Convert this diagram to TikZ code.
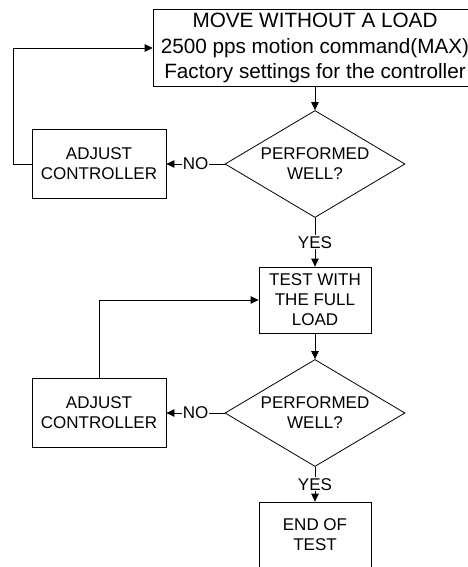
\documentclass[tikz,border=0pt]{standalone}
\usepackage{fontspec}
\setmainfont{Liberation Sans}
\usetikzlibrary{shapes.geometric,arrows.meta}

\begin{document}
\begin{tikzpicture}[x=1pt,y=1pt]
    \useasboundingbox (0,0) rectangle (467,-567);

    \tikzstyle{txt}=[font=\fontsize{17}{20}\selectfont]
    \tikzstyle{start}=[draw=black,line width=0.8pt,minimum width=324pt,minimum height=76pt,align=center,font=\fontsize{20.7}{25.5}\selectfont]
    \tikzstyle{fix}=[draw=black,line width=0.8pt,minimum width=134pt,minimum height=69pt,align=center,txt]
    \tikzstyle{stage}=[draw=black,line width=0.8pt,minimum width=112pt,minimum height=66pt,align=center,txt]
    \tikzstyle{check}=[diamond,draw=black,line width=0.8pt,shape aspect=1.68,inner sep=0pt,minimum width=180pt,minimum height=107pt,align=center,txt]
    \tikzstyle{lbl}=[fill=white,inner sep=1pt,txt]

    \node[start] (move) at (315,-48) {MOVE WITHOUT A LOAD\\2500 pps motion command(MAX)\\Factory settings for the controller};
    \node[check] (well1) at (315,-164) {PERFORMED\\WELL?};
    \node[fix] (adj1) at (99,-164) {ADJUST\\CONTROLLER};
    \node[stage] (full) at (315,-300) {TEST WITH\\THE FULL\\LOAD};
    \node[check] (well2) at (315,-413) {PERFORMED\\WELL?};
    \node[fix] (adj2) at (99,-413) {ADJUST\\CONTROLLER};
    \node[stage] (end) at (315,-535) {END OF\\TEST};

    \tikzstyle{fwd} = [draw=black, line width=0.8pt, -{Triangle[length=8pt,width=7.5pt]}]

          \draw [fwd] (move) -- (well1);
          \draw [fwd] (well1) -- node[lbl] {YES} (full);
          \draw [fwd] (well1) -- node[lbl] {NO} (adj1);
          \draw [fwd] (adj1.west) -- ++(-18,0) |- (move.west);
          \draw [fwd] (full) -- (well2);
          \draw [fwd] (well2) -- node[lbl] {YES} (end);
          \draw [fwd] (well2) -- node[lbl] {NO} (adj2);
          \draw [fwd] (adj2.north) |- (full.west);

  \end{tikzpicture}
\end{document}
